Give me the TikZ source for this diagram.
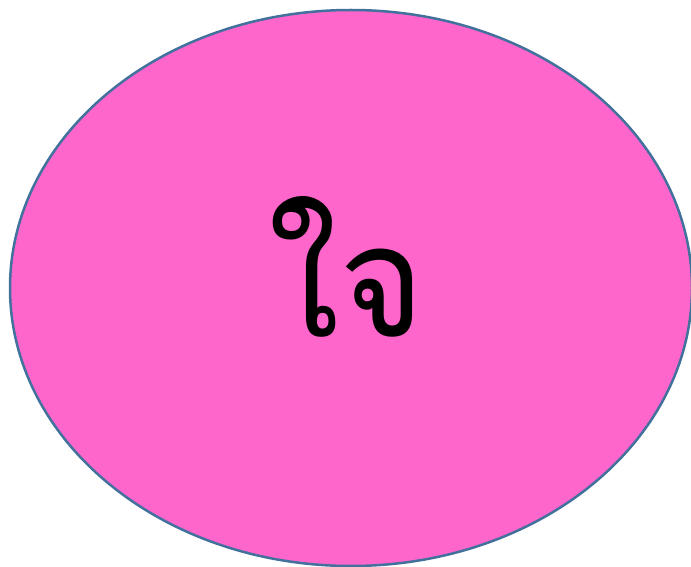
\documentclass[tikz,border=0pt]{standalone}
\usepackage{fontspec}
\usepackage{graphicx}
\newfontfamily\thaifont[Script=Thai]{Loma}
\definecolor{pinkfill}{HTML}{FF66CC}
\definecolor{blueline}{HTML}{41719C}
\tikzset{blob/.style={ellipse, draw=blueline, fill=pinkfill, line width=2.5pt, minimum width=682pt, minimum height=556pt, inner sep=0pt}}
\usetikzlibrary{shapes.geometric}
\begin{document}
\begin{tikzpicture}[x=1pt,y=1pt]
\useasboundingbox (0,0) rectangle (691,566);
\clip (0,0) rectangle (691,566);
\node[blob] (e) at (351,278) {};
\node[inner sep=0pt, font=\thaifont\fontsize{150}{160}\selectfont] (t) at (347,299) {\scalebox{0.97}[1.04]{ใจ}};
\end{tikzpicture}
\end{document}
